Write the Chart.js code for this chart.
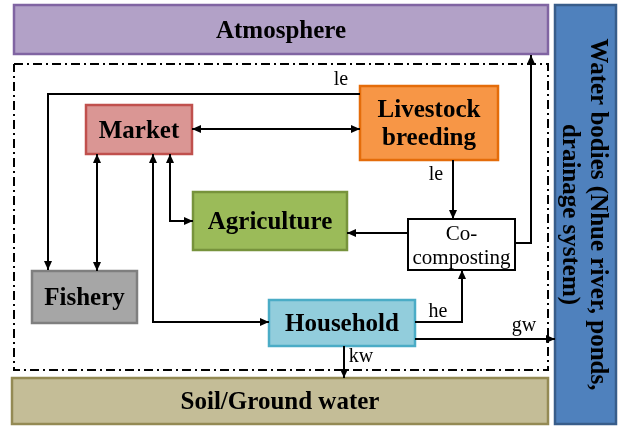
<!DOCTYPE html>
<html>
<head>
<meta charset="utf-8">
<script src="https://cdn.jsdelivr.net/npm/chart.js@4/dist/chart.umd.min.js"></script>
<style>
    html, body { margin: 0; padding: 0; background: #ffffff; }
    canvas { display: block; }
</style>
</head>
<body>
<canvas id="flowChart" width="621" height="429"></canvas>
<script>
// diagram units: x 0..621 left to right, y 0..429 top to bottom
const nodeLabels = [
    ["Atmosphere"],
    ["Water bodies (Nhue river, ponds,", "drainage system)"],
    ["Soil/Ground water"],
    ["Market"],
    ["Livestock", "breeding"],
    ["Agriculture"],
    ["Co-", "composting"],
    ["Fishery"],
    ["Household"],
];
const nodeBoxes = [
    [14, 5, 548, 54],
    [555, 5, 616, 424],
    [12, 378, 548, 424],
    [86, 105, 192, 154],
    [360, 86, 498, 160],
    [193, 192, 347, 250],
    [408, 219, 515, 270],
    [32, 271, 137, 323],
    [269, 300, 415, 346],
];
const nodeFill = ["#B2A1C7", "#4F81BD", "#C4BD97", "#DA9694", "#F79646", "#9BBB59", "#FFFFFF", "#A6A6A6", "#92CDDC"];
const nodeBorder = ["#8064A2", "#385D8A", "#948A54", "#C0504D", "#E46C0A", "#77933C", "#000000", "#7F7F7F", "#4BACC6"];
const nodeBold = [true, true, true, true, true, true, false, true, true];

const boundary = [[14, 64], [548, 64], [548, 370], [14, 370], [14, 64]];

const flowPaths = [
    [[360, 94], [48, 94], [48, 270]],
    [[192, 129], [360, 129]],
    [[97, 154], [97, 271]],
    [[170, 154], [170, 221], [193, 221]],
    [[153, 154], [153, 322], [269, 322]],
    [[453, 160], [453, 219]],
    [[408, 233], [347, 233]],
    [[515, 243], [531, 243], [531, 55]],
    [[415, 322], [462, 322], [462, 270]],
    [[415, 339], [555, 339]],
    [[344, 346], [344, 378]],
];
const flowHeads = ["end", "both", "both", "both", "both", "end", "end", "end", "end", "end", "end"];
const flowLabelText = ["le", "le", "he", "gw", "kw"];
const flowLabelAt = [[341, 80], [436, 175], [438, 312], [524, 326], [361, 357]];

const serif = '"Liberation Serif", "Times New Roman", serif';

function toXY(p) {
    return { x: p[0], y: p[1] };
}

let datasets = [];
datasets.push({
    data: boundary.map(toXY),
    showLine: true,
    borderColor: "#000000",
    borderWidth: 2,
    borderDash: [9, 4, 2, 4],
    pointRadius: 0,
    fill: false,
});
flowPaths.forEach((path) => {
    datasets.push({
        data: path.map(toXY),
        showLine: true,
        borderColor: "#000000",
        borderWidth: 2,
        pointRadius: 0,
        fill: false,
        tension: 0,
    });
});

function arrowHead(ctx, from, to) {
    const ang = Math.atan2(to.y - from.y, to.x - from.x);
    const len = 9, half = 4;
    ctx.save();
    ctx.translate(to.x, to.y);
    ctx.rotate(ang);
    ctx.beginPath();
    ctx.moveTo(0, 0);
    ctx.lineTo(-len, -half);
    ctx.lineTo(-len, half);
    ctx.closePath();
    ctx.fillStyle = "#000000";
    ctx.fill();
    ctx.restore();
}

const diagramPlugin = {
    id: "diagram",
    beforeDatasetsDraw(chart) {
        const ctx = chart.ctx;
        const xs = chart.scales.x, ys = chart.scales.y;
        nodeBoxes.forEach((b, i) => {
            const x0 = xs.getPixelForValue(b[0]), y0 = ys.getPixelForValue(b[1]);
            const x1 = xs.getPixelForValue(b[2]), y1 = ys.getPixelForValue(b[3]);
            ctx.save();
            ctx.fillStyle = nodeFill[i];
            ctx.fillRect(x0, y0, x1 - x0, y1 - y0);
            ctx.lineWidth = i === 6 ? 2 : 2.5;
            ctx.strokeStyle = nodeBorder[i];
            ctx.strokeRect(x0, y0, x1 - x0, y1 - y0);
            ctx.restore();
        });
    },
    afterDatasetsDraw(chart) {
        const ctx = chart.ctx;
        const xs = chart.scales.x, ys = chart.scales.y;
        const px = (p) => ({ x: xs.getPixelForValue(p[0]), y: ys.getPixelForValue(p[1]) });

        // arrow heads
        flowPaths.forEach((path, i) => {
            const n = path.length;
            arrowHead(ctx, px(path[n - 2]), px(path[n - 1]));
            if (flowHeads[i] === "both") arrowHead(ctx, px(path[1]), px(path[0]));
        });

        // box labels
        nodeLabels.forEach((lines, i) => {
            const b = nodeBoxes[i];
            const c = px([(b[0] + b[2]) / 2, (b[1] + b[3]) / 2]);
            const size = nodeBold[i] ? 25 : 21;
            const lh = nodeBold[i] ? 28 : 24;
            ctx.save();
            ctx.translate(c.x, c.y);
            if (i === 1) ctx.rotate(Math.PI / 2);
            ctx.font = (nodeBold[i] ? "bold " : "") + size + "px " + serif;
            ctx.fillStyle = "#000000";
            ctx.textAlign = "center";
            ctx.textBaseline = "middle";
            lines.forEach((t, k) => {
                ctx.fillText(t, 0, (k - (lines.length - 1) / 2) * lh + 2);
            });
            ctx.restore();
        });

        // flow labels
        ctx.save();
        ctx.font = "20px " + serif;
        ctx.fillStyle = "#000000";
        ctx.textAlign = "center";
        ctx.textBaseline = "middle";
        flowLabelText.forEach((t, i) => {
            const p = px(flowLabelAt[i]);
            ctx.fillText(t, p.x, p.y);
        });
        ctx.restore();
    },
};

new Chart(document.getElementById("flowChart").getContext("2d"), {
    type: "scatter",
    data: { datasets: datasets },
    options: {
        responsive: false,
        animation: false,
        devicePixelRatio: 1,
        events: [],
        layout: { padding: 0 },
        plugins: {
            legend: { display: false },
            tooltip: { enabled: false },
        },
        scales: {
            x: { type: "linear", min: 0, max: 621, display: false },
            y: { type: "linear", min: 0, max: 429, reverse: true, display: false },
        },
    },
    plugins: [diagramPlugin],
});
</script>
</body>
</html>
